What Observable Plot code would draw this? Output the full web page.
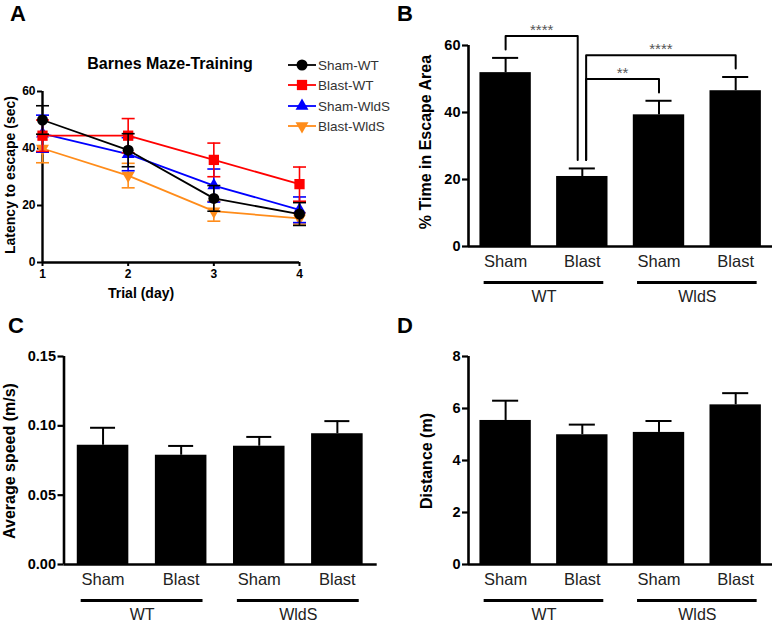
<!DOCTYPE html>
<html>
<head>
<meta charset="utf-8">
<script src="https://cdn.jsdelivr.net/npm/d3@7"></script>
<script src="https://cdn.jsdelivr.net/npm/@observablehq/plot@0.6"></script>
<style>
html, body { margin: 0; padding: 0; background: #fff; }
#fig { position: relative; width: 775px; height: 622px; overflow: hidden; background: #fff;
       font-family: "Liberation Sans", Arial, Helvetica, sans-serif; color: #000; }
.txt { position: absolute; white-space: nowrap; line-height: 1; transform: translate(-50%, -50%); }
.rot { position: absolute; white-space: nowrap; line-height: 1; font-weight: bold; transform: translate(-50%, -50%) rotate(-90deg); }
.letter { position: absolute; font-weight: bold; font-size: 22px; line-height: normal; }
g[aria-label="y-axis tick label"], g[aria-label="x-axis tick label"] { font-weight: bold; }
</style>
</head>
<body>
<div id="fig"></div>
<script>
// ---------- Panel A: Barnes maze training ----------
const days = [1, 2, 3, 4];
const seriesNames = ["Sham-WT", "Blast-WT", "Sham-WldS", "Blast-WldS"];
const seriesColors = ["#000000", "#ff0000", "#0000ff", "#ff8c1a"];
const latencyShamWT = [50.0, 39.4, 22.5, 17.0];
const latencyShamWTSem = [5.0, 5.8, 4.5, 4.0];
const latencyBlastWT = [44.5, 44.5, 36.0, 27.5];
const latencyBlastWTSem = [5.5, 6.0, 5.9, 6.0];
const latencyShamWldS = [45.2, 38.0, 27.0, 18.5];
const latencyShamWldSSem = [6.5, 5.8, 5.8, 4.5];
const latencyBlastWldS = [40.0, 30.5, 18.0, 15.5];
const latencyBlastWldSSem = [5.0, 4.3, 3.5, 2.0];
const yTicksA = [0, 20, 40, 60];

// ---------- Panels B-D: bar charts ----------
const conditions = ["Sham", "Blast", "Sham", "Blast"];
const genotypes = ["WT", "WT", "WldS", "WldS"];
const escapeTime = [51.9, 20.9, 39.3, 46.5];
const escapeTimeSem = [4.4, 2.4, 4.2, 4.1];
const yTicksB = [0, 20, 40, 60];
const compFrom = [0, 1, 1];
const compTo = [1, 3, 2];
const compStars = ["****", "****", "**"];
const avgSpeed = [0.086, 0.0788, 0.0853, 0.0943];
const avgSpeedSem = [0.0126, 0.0067, 0.0067, 0.0091];
const yTicksC = [0, 0.05, 0.10, 0.15];
const distance = [5.54, 4.99, 5.08, 6.14];
const distanceSem = [0.76, 0.39, 0.44, 0.45];
const yTicksD = [0, 2, 4, 6, 8];

const fontFamily = '"Liberation Sans", Arial, Helvetica, sans-serif';
const fig = document.getElementById("fig");

function place(node, left, top) {
  const d = document.createElement("div");
  d.style.position = "absolute";
  d.style.left = left + "px";
  d.style.top = top + "px";
  d.appendChild(node);
  fig.appendChild(d);
}
function addText(text, cx, cy, cls, styles) {
  const d = document.createElement("div");
  d.className = cls;
  d.textContent = text;
  d.style.left = cx + "px";
  d.style.top = cy + "px";
  Object.assign(d.style, styles || {});
  fig.appendChild(d);
  return d;
}

const triDown = {
  draw(ctx, size) {
    const y = -Math.sqrt(size / (Math.sqrt(3) * 3));
    ctx.moveTo(0, -2 * y);
    ctx.lineTo(Math.sqrt(3) * y, y);
    ctx.lineTo(-Math.sqrt(3) * y, y);
    ctx.closePath();
  }
};
const capSymbol = { draw(ctx) { ctx.moveTo(-6.5, 0); ctx.lineTo(6.5, 0); } };
const seriesSymbols = [d3.symbolCircle, d3.symbolSquare, d3.symbolTriangle, triDown];
const seriesR = [5.5, 5.8, 4.8, 4.8];

// ---------- Panel A ----------
{
  const means = [latencyShamWT, latencyBlastWT, latencyShamWldS, latencyBlastWldS];
  const sems = [latencyShamWTSem, latencyBlastWTSem, latencyShamWldSSem, latencyBlastWldSSem];
  const marks = [
    Plot.ruleX([days[0]], {y1: 0, y2: 60, strokeWidth: 2.4}),
    Plot.ruleY([0], {x1: days[0], x2: days[days.length - 1], strokeWidth: 2.4}),
    Plot.axisY({ticks: yTicksA, tickSize: 5, tickPadding: 2, strokeWidth: 2, fontSize: 12, fontWeight: "bold", label: null}),
    Plot.axisX({ticks: days, tickFormat: d3.format("d"), tickSize: 4, tickPadding: 3, strokeWidth: 2, fontSize: 12, fontWeight: "bold", label: null})
  ];
  for (const k of [3, 2, 1, 0]) {
    const rows = days.map((d, j) => ({day: d, mean: means[k][j], lo: means[k][j] - sems[k][j], hi: means[k][j] + sems[k][j]}));
    const c = seriesColors[k];
    marks.push(
      Plot.line(rows, {x: "day", y: "mean", stroke: c, strokeWidth: 1.8}),
      Plot.ruleX(rows, {x: "day", y1: "lo", y2: "hi", stroke: c, strokeWidth: 1.6}),
      Plot.dot(rows, {x: "day", y: "lo", symbol: capSymbol, fill: "none", stroke: c, strokeWidth: 1.6}),
      Plot.dot(rows, {x: "day", y: "hi", symbol: capSymbol, fill: "none", stroke: c, strokeWidth: 1.6}),
      Plot.dot(rows, {x: "day", y: "mean", symbol: seriesSymbols[k], r: seriesR[k], fill: c, stroke: "none"})
    );
  }
  const svg = Plot.plot({
    width: 390, height: 310,
    marginLeft: 42, marginRight: 91, marginTop: 91, marginBottom: 48,
    x: {domain: [1, 4]}, y: {domain: [0, 60]},
    style: {fontFamily, fontSize: "12px", background: "transparent", overflow: "visible", color: "#000"},
    marks
  });
  place(svg, 0, 0);

  // legend
  const leg = d3.create("svg").attr("width", 110).attr("height", 90).style("overflow", "visible");
  seriesNames.forEach((name, k) => {
    const y = [10, 30, 51, 71][k];
    const g = leg.append("g").attr("transform", `translate(0,${y})`);
    g.append("line").attr("x1", 3).attr("x2", 31).attr("y1", 0).attr("y2", 0).attr("stroke", seriesColors[k]).attr("stroke-width", 1.8);
    g.append("path").attr("transform", "translate(17,0)")
      .attr("d", d3.symbol(seriesSymbols[k], seriesR[k] * seriesR[k] * Math.PI)())
      .attr("fill", seriesColors[k]);
    g.append("text").attr("x", 33).attr("y", 0).attr("dy", "0.36em")
      .attr("font-size", 13.5).attr("fill", "#333").attr("font-family", fontFamily).text(name);
  });
  place(leg.node(), 285, 55);

  addText("Barnes Maze-Training", 170, 64, "txt", {fontWeight: "bold", fontSize: "16px"});
  addText("Trial (day)", 142, 293, "txt", {fontWeight: "bold", fontSize: "14px", transform: "translate(0,-50%)"}).style.left = "108px";
  addText("Latency to escape (sec)", 10, 175, "rot", {fontSize: "14px"});
}

// ---------- Bar panel builder ----------
function barPanel(cfg) {
  const {values, sems, yDomain, yTicks, tickFormat, width, height, margins, xDomain, halfBar, capHalf, comps} = cfg;
  const rows = values.map((v, i) => ({i, cond: conditions[i], mean: v, top: v + sems[i]}));
  const groups = d3.groups(rows, d => genotypes[d.i]).map(([name, rs]) => ({
    name, start: d3.min(rs, r => r.i), end: d3.max(rs, r => r.i)
  }));
  const marks = [
    Plot.rectY(rows, {x1: d => d.i - halfBar, x2: d => d.i + halfBar, y1: () => 0, y2: "mean", fill: "#000"}),
    Plot.ruleX(rows, {x: "i", y1: "mean", y2: "top", strokeWidth: 2}),
    Plot.ruleY(rows, {y: "top", x1: d => d.i - capHalf, x2: d => d.i + capHalf, strokeWidth: 2}),
    Plot.ruleX([xDomain[0]], {y1: yDomain[0], y2: yDomain[1], strokeWidth: 2.6}),
    Plot.ruleY([0], {x1: xDomain[0], x2: xDomain[1], strokeWidth: 2.6}),
    Plot.axisY({ticks: yTicks, tickFormat, tickSize: 6, tickPadding: 2, strokeWidth: 2.2, fontSize: 14.5, fontWeight: "bold", label: null}),
    Plot.text(rows, {x: "i", y: () => 0, text: "cond", dy: 15.5, fontSize: 16.5, fill: "#222"}),
    Plot.ruleY(groups, {y: () => 0, x1: d => d.start - 0.28, x2: d => d.end + 0.28, dy: 36, strokeWidth: 3}),
    Plot.text(groups, {x: d => (d.start + d.end) / 2, y: () => 0, text: "name", dy: 50, fontSize: 16, fill: "#222"})
  ];
  if (comps) {
    const isTo = new Set(comps.from.map((_, k) => comps.to[k]));
    const isFrom = new Set(comps.from);
    const pts = [], labels = [];
    comps.from.forEach((a, k) => {
      const b = comps.to[k];
      const lo = Math.min(a, b), hi = Math.max(a, b);
      const level = d3.max(rows.slice(lo, hi + 1), r => r.top) + comps.gap;
      const lx = a + (isTo.has(a) ? 0.05 : 0);
      const rx = b - (isFrom.has(b) ? 0.06 : 0);
      pts.push({id: k, x: lx, y: rows[a].top + comps.leg}, {id: k, x: lx, y: level},
               {id: k, x: rx, y: level}, {id: k, x: rx, y: rows[b].top + comps.leg});
      labels.push({x: (lx + rx) / 2, y: level, text: comps.stars[k]});
    });
    marks.push(
      Plot.line(pts, {x: "x", y: "y", z: "id", strokeWidth: 2, curve: "linear"}),
      Plot.text(labels, {x: "x", y: "y", text: "text", dy: -1, lineAnchor: "bottom", fontSize: 15, fill: "#555"})
    );
  }
  return Plot.plot({
    width, height, ...margins,
    x: {domain: xDomain, axis: null},
    y: {domain: yDomain},
    style: {fontFamily, fontSize: "14.5px", background: "transparent", overflow: "visible", color: "#000"},
    marks
  });
}

// ---------- Panel B ----------
place(barPanel({
  values: escapeTime, sems: escapeTimeSem, yDomain: [0, 60], yTicks: yTicksB, tickFormat: d3.format("d"),
  width: 385, height: 310,
  margins: {marginLeft: 78, marginRight: 3, marginTop: 45, marginBottom: 64},
  xDomain: [-0.484, 3.48], halfBar: 0.335, capHalf: 0.17,
  comps: {from: compFrom, to: compTo, stars: compStars, gap: 6.5, leg: 2.5}
}), 390, 0);
addText("% Time in Escape Area", 426, 142, "rot", {fontSize: "16px"});

// ---------- Panel C ----------
place(barPanel({
  values: avgSpeed, sems: avgSpeedSem, yDomain: [0, 0.15], yTicks: yTicksC, tickFormat: d3.format(".2f"),
  width: 390, height: 312,
  margins: {marginLeft: 63.5, marginRight: 13.3, marginTop: 46, marginBottom: 58},
  xDomain: [-0.5, 3.51], halfBar: 0.33, capHalf: 0.16
}), 0, 310);
addText("Average speed (m/s)", 10, 461, "rot", {fontSize: "16px"});

// ---------- Panel D ----------
place(barPanel({
  values: distance, sems: distanceSem, yDomain: [0, 8], yTicks: yTicksD, tickFormat: d3.format("d"),
  width: 385, height: 312,
  margins: {marginLeft: 78, marginRight: 3, marginTop: 46, marginBottom: 58},
  xDomain: [-0.484, 3.48], halfBar: 0.335, capHalf: 0.17
}), 390, 310);
addText("Distance (m)", 427, 461, "rot", {fontSize: "16px"});

// ---------- Panel letters ----------
[["A", 10, 1], ["B", 397, 1], ["C", 8, 313], ["D", 397, 313]].forEach(([t, x, y]) => {
  const d = document.createElement("div");
  d.className = "letter";
  d.textContent = t;
  d.style.left = x + "px";
  d.style.top = y + "px";
  fig.appendChild(d);
});
</script>
</body>
</html>
